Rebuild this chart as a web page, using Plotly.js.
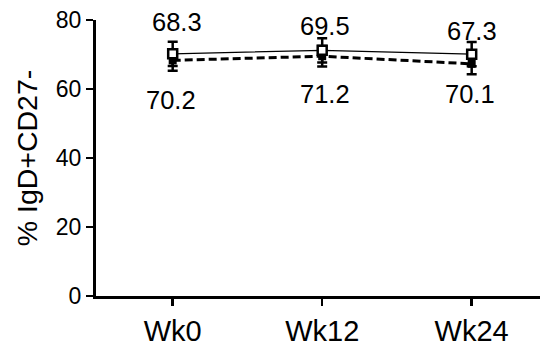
<!DOCTYPE html>
<html>
<head>
<meta charset="utf-8">
<script src="https://cdn.plot.ly/plotly-3.0.1.min.js"></script>
<style>html,body{margin:0;padding:0;background:#fff;}#chart{width:548px;height:346px;}</style>
</head>
<body>
<div id="chart"></div>
<script>
const weeks = ["Wk0", "Wk12", "Wk24"];
const openValues = [70.2, 71.2, 70.1];
const openErr = [3.5, 3.5, 3.5];
const filledValues = [68.3, 69.5, 67.3];
const filledErr = [3.0, 3.0, 3.0];
const yTicks = [0, 20, 40, 60, 80];

const FONT = "Liberation Sans, Arial, Helvetica, sans-serif";

const traces = [
  {
    x: weeks, y: filledValues, type: "scatter", mode: "lines+markers",
    line: {color: "#000", width: 3, dash: "8px,4px"},
    marker: {symbol: "square", size: 8, color: "#000"},
    error_y: {type: "data", array: filledErr, visible: true, color: "#000", thickness: 2.5, width: 5},
    showlegend: false, hoverinfo: "skip"
  },
  {
    x: weeks, y: openValues, type: "scatter", mode: "lines+markers",
    line: {color: "#000", width: 1.3},
    marker: {symbol: "square", size: 9, color: "#fff", line: {color: "#000", width: 2.5}},
    error_y: {type: "data", array: openErr, visible: true, color: "#000", thickness: 2.5, width: 5},
    showlegend: false, hoverinfo: "skip"
  }
];

// label offsets (pixels) relative to the data points
const aboveShiftY = [38, 30, 33];
const aboveShiftX = [4, 3, 0];
const belowShiftY = [-46, -44, -40];
const belowShiftX = [-2, 3, -2];

const annotations = [];
weeks.forEach((w, i) => {
  annotations.push({x: w, y: filledValues[i], text: String(filledValues[i]), showarrow: false,
    xref: "x", yref: "y", yshift: aboveShiftY[i], xshift: aboveShiftX[i],
    font: {family: FONT, size: 25.5, color: "#000"}});
  annotations.push({x: w, y: openValues[i], text: String(openValues[i]), showarrow: false,
    xref: "x", yref: "y", yshift: belowShiftY[i], xshift: belowShiftX[i],
    font: {family: FONT, size: 25.5, color: "#000"}});
});

const layout = {
  width: 548, height: 346,
  margin: {l: 96, r: 8, t: 20, b: 50, pad: 0},
  paper_bgcolor: "#fff", plot_bgcolor: "#fff",
  font: {family: FONT, color: "#000"},
  xaxis: {
    type: "category", range: [-0.513, 2.457],
    showline: true, linecolor: "#000", linewidth: 3,
    ticks: "outside", ticklen: 7, tickwidth: 2.5, tickcolor: "#000",
    showgrid: false, zeroline: false,
    tickfont: {family: FONT, size: 29, color: "#000"}
  },
  yaxis: {
    range: [0, 80], tickvals: yTicks, ticktext: yTicks.map(String),
    showline: true, linecolor: "#000", linewidth: 3,
    ticks: "outside", ticklen: 7, tickwidth: 2.5, tickcolor: "#000",
    showgrid: false, zeroline: false,
    tickfont: {family: FONT, size: 23, color: "#000"},
    title: {text: "% IgD+CD27-", font: {family: FONT, size: 28.5, color: "#000"}, standoff: 10}
  },
  annotations: annotations
};

Plotly.newPlot("chart", traces, layout, {staticPlot: true, displayModeBar: false});
</script>
</body>
</html>
